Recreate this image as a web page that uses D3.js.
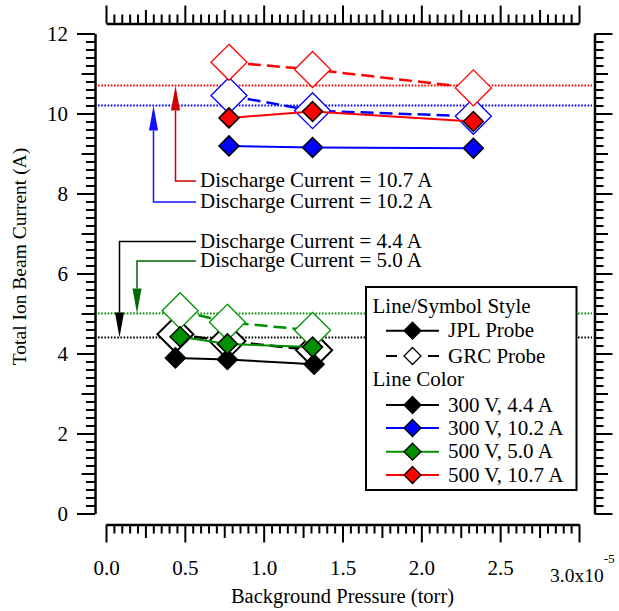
<!DOCTYPE html>
<html><head><meta charset="utf-8">
<script src="https://cdn.jsdelivr.net/npm/d3@7"></script>
<style>body{margin:0;background:#fff} svg text{font-family:"Liberation Serif","Times New Roman",serif;fill:#000}</style>
</head><body><svg id="c" width="619" height="611"></svg>
<script>
// Background pressure in units of 1e-5 torr; currents in A
const seriesNames = ["300 V, 4.4 A", "300 V, 10.2 A", "500 V, 5.0 A", "500 V, 10.7 A"];
const seriesColors = ["#000000", "#0000ff", "#009000", "#ff0000"];
const dischargeCurrents = [4.4, 10.2, 5.0, 10.7];
const annotationLabels = ["Discharge Current = 4.4 A", "Discharge Current = 10.2 A", "Discharge Current = 5.0 A", "Discharge Current = 10.7 A"];

const pressure_300V_44A = [0.44, 0.77, 1.32];
const jpl_300V_44A = [3.89, 3.85, 3.73];
const grc_300V_44A = [4.48, 4.31, 4.08];

const pressure_300V_102A = [0.78, 1.31, 2.33];
const jpl_300V_102A = [9.19, 9.15, 9.13];
const grc_300V_102A = [10.45, 10.07, 9.93];

const pressure_500V_50A = [0.47, 0.77, 1.31];
const jpl_500V_50A = [4.42, 4.24, 4.16];
const grc_500V_50A = [5.07, 4.78, 4.58];

const pressure_500V_107A = [0.78, 1.31, 2.33];
const jpl_500V_107A = [9.89, 10.05, 9.80];
const grc_500V_107A = [11.28, 11.10, 10.64];

const xTickLabels = ["0.0", "0.5", "1.0", "1.5", "2.0", "2.5"];
const xLastTickLabel = "3.0x10";
const xLastTickExp = "-5";
const yTickLabels = ["0", "2", "4", "6", "8", "10", "12"];

const table = [
  {p: pressure_300V_44A, jpl: jpl_300V_44A, grc: grc_300V_44A},
  {p: pressure_300V_102A, jpl: jpl_300V_102A, grc: grc_300V_102A},
  {p: pressure_500V_50A, jpl: jpl_500V_50A, grc: grc_500V_50A},
  {p: pressure_500V_107A, jpl: jpl_500V_107A, grc: grc_500V_107A}
].map((d, i) => ({...d, name: seriesNames[i], color: seriesColors[i], current: dischargeCurrents[i]}));

const svg = d3.select("#c");
const x = d3.scaleLinear().domain([0, 3]).range([106, 579]);
const y = d3.scaleLinear().domain([0, 12]).range([513.5, 33.5]);

const FS = 21;
// tick sets
const xMajor = d3.range(0, 3.0001, 0.5);
const xMed = d3.range(0.25, 3, 0.5);
const xMinor = d3.range(0, 3.0001, 0.05).filter(v => Math.abs(v * 4 - Math.round(v * 4)) > 1e-6);
const yMajor = d3.range(0, 12.0001, 2);
const yMed = d3.range(1, 12, 2);
const yMinor = d3.range(0, 12.0001, 0.2).filter(v => Math.abs(v - Math.round(v)) > 1e-6);

function drawAxis(axisFn, scale, tr, showLabels, labelFmt) {
  const g = svg.append("g").attr("transform", tr);
  const sets = [[xMinor, 9], [xMed, 13], [xMajor, 18]];
  return g;
}
function axisGroup(maker, scale, tr, minor, med, major, labels) {
  const g = svg.append("g").attr("transform", tr);
  [[minor, 9], [med, 13.5]].forEach(([vals, len]) => {
    g.append("g").call(maker(scale).tickValues(vals).tickSize(len).tickSizeOuter(0).tickFormat(""))
      .call(s => s.select(".domain").remove());
  });
  const gm = g.append("g").call(maker(scale).tickValues(major).tickSize(18).tickSizeOuter(0)
    .tickFormat(labels ? ((d, i) => labels[i]) : ""));
  g.selectAll(".tick line").attr("stroke", "#000").attr("stroke-width", 2);
  gm.select(".domain").attr("stroke", "#000").attr("stroke-width", 2.5);
  g.selectAll("text").attr("font-size", FS).attr("font-family", null);
  return gm;
}

// left axis
const gl = axisGroup(d3.axisLeft, y, "translate(95,0)", yMinor, yMed, yMajor, yTickLabels);
gl.selectAll(".tick text").attr("x", -27).attr("dy", "0.34em");
// right axis
axisGroup(d3.axisRight, y, "translate(594.5,0)", yMinor, yMed, yMajor, null);
// top axis
axisGroup(d3.axisTop, x, "translate(0,23.5)", xMinor, xMed, xMajor, null);
// bottom axis
const gb = axisGroup(d3.axisBottom, x, "translate(0,524.5)", xMinor, xMed, xMajor,
  xMajor.map((d, i) => i < xTickLabels.length ? xTickLabels[i] : ""));
gb.selectAll(".tick text").attr("y", 50.5).attr("dy", null);
// last label with exponent
const last = svg.append("text").attr("x", 550).attr("y", 581.5).attr("font-size", 19.5);
last.append("tspan").text(xLastTickLabel);
last.append("tspan").attr("font-size", 13.5).attr("dy", -19).text(xLastTickExp);

// axis titles
svg.append("text").attr("x", x(1.5)).attr("y", 602.5).attr("text-anchor", "middle")
  .attr("font-size", 20.5).text("Background Pressure (torr)");
svg.append("text").attr("transform", "translate(26,256.5) rotate(-90)").attr("text-anchor", "middle")
  .attr("font-size", 19.5).text("Total Ion Beam Current (A)");

// dotted discharge current lines
table.forEach(d => {
  svg.append("line").attr("x1", 98).attr("x2", 592).attr("y1", y(d.current)).attr("y2", y(d.current))
    .attr("stroke", d.color).attr("stroke-width", 2).attr("stroke-dasharray", "1.6,1.6");
});

// annotations
const annotColors = ["#000000", "#1010ff", "#006a00", "#d00000"];
const annotLeaderY = [241.5, 202, 261, 181];
const annotVX = [119.5, 153.5, 137, 175.5];
table.forEach((d, i) => {
  const ly = annotLeaderY[i], vx = annotVX[i], tip = y(d.current);
  const c = annotColors[i];
  const dir = tip > ly ? 1 : -1;
  const headLen = 25, hw = 4.5;
  const base = tip - dir * headLen;
  svg.append("path").attr("d", `M196,${ly}H${vx}V${base}`).attr("fill", "none").attr("stroke", c).attr("stroke-width", 1.5);
  svg.append("path").attr("d", `M${vx},${tip}L${vx - hw},${base}L${vx + hw},${base}Z`).attr("fill", c);
  svg.append("text").attr("x", 200).attr("y", ly + 6).attr("font-size", FS).text(annotationLabels[i]);
});

// diamond path helper
const diamond = r => `M0,${-r}L${r},0L0,${r}L${-r},0Z`;
const line = d3.line().x(d => x(d[0])).y(d => y(d[1]));

// GRC (open, dashed) first
table.forEach(d => {
  const pts = d.p.map((p, i) => [p, d.grc[i]]);
  svg.append("path").attr("d", line(pts)).attr("fill", "none").attr("stroke", d.color)
    .attr("stroke-width", 2.5).attr("stroke-dasharray", "13,6");
  svg.selectAll(null).data(pts).enter().append("path")
    .attr("transform", p => `translate(${x(p[0])},${y(p[1])})`).attr("d", diamond(18))
    .attr("fill", "#fff").attr("stroke", d.color).attr("stroke-width", d.color === "#000000" ? 2 : 1.3);
});
// JPL (filled, solid)
table.forEach(d => {
  const pts = d.p.map((p, i) => [p, d.jpl[i]]);
  svg.append("path").attr("d", line(pts)).attr("fill", "none").attr("stroke", d.color).attr("stroke-width", 2);
  svg.selectAll(null).data(pts).enter().append("path")
    .attr("transform", p => `translate(${x(p[0])},${y(p[1])})`).attr("d", diamond(10))
    .attr("fill", d.color).attr("stroke", "#000").attr("stroke-width", 1.5);
});

// legend
const lg = svg.append("g");
lg.append("rect").attr("x", 366).attr("y", 287).attr("width", 210.5).attr("height", 203)
  .attr("fill", "#fff").attr("stroke", "#000").attr("stroke-width", 2);
lg.append("text").attr("x", 372.5).attr("y", 312.5).attr("font-size", FS).text("Line/Symbol Style");
lg.append("text").attr("x", 372.5).attr("y", 385.5).attr("font-size", FS).text("Line Color");
const styleEntries = [
  {label: "JPL Probe", dash: null, fill: "#000", cy: 330.7},
  {label: "GRC Probe", dash: "11,31", fill: "#fff", cy: 356}
];
styleEntries.forEach(e => {
  lg.append("line").attr("x1", 386).attr("x2", 439).attr("y1", e.cy).attr("y2", e.cy)
    .attr("stroke", "#000").attr("stroke-width", 2).attr("stroke-dasharray", e.dash);
  lg.append("path").attr("transform", `translate(412.5,${e.cy})`).attr("d", diamond(8.5))
    .attr("fill", e.fill).attr("stroke", "#000").attr("stroke-width", 1.3);
  lg.append("text").attr("x", 448).attr("y", e.cy + 6.5).attr("font-size", FS).text(e.label);
});
const colorEntryY = [405, 428, 451.7, 475];
table.forEach((d, i) => {
  const cy = colorEntryY[i];
  lg.append("line").attr("x1", 386).attr("x2", 439).attr("y1", cy).attr("y2", cy)
    .attr("stroke", d.color).attr("stroke-width", 2);
  lg.append("path").attr("transform", `translate(412.5,${cy})`).attr("d", diamond(8.5))
    .attr("fill", d.color).attr("stroke", "#000").attr("stroke-width", 1.3);
  lg.append("text").attr("x", 448).attr("y", cy + 6.5).attr("font-size", FS).text(d.name);
});
</script></body></html>
